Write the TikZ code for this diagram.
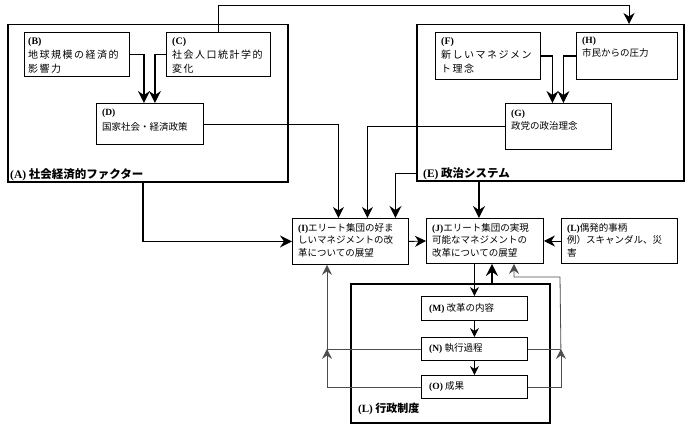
\documentclass[tikz,border=0pt]{standalone}
\usepackage{fontspec}
\setmainfont{Noto Sans CJK JP}
\newfontfamily\latf{Liberation Serif}
\newfontfamily\jpw[LetterSpace=15]{Noto Sans CJK JP}
\usetikzlibrary{arrows.meta,calc}
\newcommand\lb[1]{{\latf\bfseries #1}}
\begin{document}
\begin{tikzpicture}[x=1pt,y=-1pt,
  frame/.style={draw, line width=1.5pt, anchor=north west, inner sep=0pt},
  box/.style={draw, line width=0.9pt, anchor=north west, inner sep=0pt},
  txt/.style={anchor=north west, align=left, inner sep=0pt, font=\fontsize{9.5}{12.5}\selectfont},
  wtxt/.style={anchor=north west, align=left, inner sep=0pt, font=\jpw\fontsize{10}{14}\selectfont},
  ltxt/.style={anchor=west, inner sep=0pt, font=\fontsize{11.5}{13}\selectfont\bfseries},
  con/.style={line width=0.9pt, -{Stealth[length=11pt,width=11pt,inset=3.5pt]}},
  cons/.style={line width=0.9pt, -{Stealth[length=9pt,width=9pt,inset=3pt]}},
  conB/.style={line width=1.3pt, -{Stealth[length=12pt,width=12pt,inset=4pt]}},
  conT/.style={line width=1.8pt, -{Stealth[length=12pt,width=12pt,inset=4pt]}},
  conG/.style={line width=0.8pt, draw=black!70, -{Stealth[length=10pt,width=10pt,inset=3.5pt]}},
  lineG/.style={line width=0.8pt, draw=black!70}]
\useasboundingbox (0,0) rectangle (700,428);

% frames
\node[frame, minimum width=280pt, minimum height=157pt] (A) at (7,24) {};
\node[frame, minimum width=267pt, minimum height=156pt] (E) at (416,24) {};
\node[frame, minimum width=199pt, minimum height=139pt] (Adm) at (350,283) {};

% boxes
\node[box, minimum width=105pt, minimum height=44pt] (B) at (24,32) {};
\node[box, minimum width=104pt, minimum height=44pt] (C) at (166,32) {};
\node[box, minimum width=107pt, minimum height=41pt] (D) at (96,103) {};
\node[box, minimum width=105pt, minimum height=47pt] (F) at (435,32) {};
\node[box, minimum width=101pt, minimum height=47pt] (H) at (576,32) {};
\node[box, minimum width=106pt, minimum height=46pt] (G) at (505,103) {};
\node[box, minimum width=116pt, minimum height=46pt] (I) at (292,218) {};
\node[box, minimum width=117pt, minimum height=45pt] (J) at (426,218) {};
\node[box, minimum width=116pt, minimum height=45pt] (Lc) at (561,218) {};
\node[box, minimum width=106pt, minimum height=24pt] (M) at (421,296) {};
\node[box, minimum width=106pt, minimum height=23pt] (N) at (421,337) {};
\node[box, minimum width=106pt, minimum height=23pt] (O) at (421,375) {};

% texts
\node[wtxt] (Bt) at ($(B.north west)+(4,5)$) {\lb{(B)}\\地球規模の経済的\\影響力};
\node[wtxt] (Ct) at ($(C.north west)+(6,5)$) {\lb{(C)}\\社会人口統計学的\\変化};
\node[txt, font=\fontsize{9.5}{14.5}\selectfont] (Dt) at ($(D.north west)+(6,6)$) {\lb{(D)}\\国家社会・経済政策};
\node[wtxt] (Ft) at ($(F.north west)+(6,5)$) {\lb{(F)}\\新しいマネジメン\\ト理念};
\node[txt, font=\fontsize{9.5}{13}\selectfont] (Ht) at ($(H.north west)+(6,5)$) {\lb{(H)}\\市民からの圧力};
\node[txt, font=\fontsize{9.5}{13}\selectfont] (Gt) at ($(G.north west)+(6,7)$) {\lb{(G)}\\政党の政治理念};
\node[txt] (It) at ($(I.north west)+(6,5)$) {\lb{(I)}エリート集団の好ま\\しいマネジメントの改\\革についての展望};
\node[txt] (Jt) at ($(J.north west)+(6,5)$) {\lb{(J)}エリート集団の実現\\可能なマネジメントの\\改革についての展望};
\node[txt] (Lt) at ($(Lc.north west)+(6,5)$) {\lb{(L)}偶発的事柄\\例）スキャンダル、災\\害};
\node[txt, anchor=west] (Mt) at ($(M.west)+(8,0)$) {\lb{(M)} 改革の内容};
\node[txt, anchor=west] (Nt) at ($(N.west)+(8,0)$) {\lb{(N)} 執行過程};
\node[txt, anchor=west] (Ot) at ($(O.west)+(8,0)$) {\lb{(O)} 成果};

% frame labels
\node[ltxt] (At) at ($(A.south west)+(3,-8)$) {{\latf\bfseries (A)} 社会経済的ファクター};
\node[ltxt] (Et) at ($(E.south west)+(7,-8)$) {{\latf\bfseries (E)} 政治システム};
\node[ltxt, font=\fontsize{11}{13}\selectfont\bfseries] (Admt) at ($(Adm.south west)+(8,-15)$) {{\latf\bfseries (L)} 行政制度};

% coordinates
\coordinate (t1) at (629,5);
\coordinate (ax) at ($(A.south)+(-5,0)$);
\coordinate (jx) at ($(J.north)+(-6,0)$);
\coordinate (a2) at ($(J.south)+(7,0)$);
\coordinate (jr) at ($(J.south)+(29,0)$);
\coordinate (rj) at ($(N.east)+(33,0)$);
\coordinate (lj) at ($(N.west)+(-94,0)$);
\coordinate (rtop) at (560,277);
\coordinate (el) at ($(E.south west)+(0,-8)$);

% connectors
\draw[con] (C.north) |- (t1) -- (t1 |- E.north);
\draw[conB] (B.east) -| ($(D.north)+(-6,0)$);
\draw[conB] (C.west) -| ($(D.north)+(5,0)$);
\draw[conB] (F.east) -| ($(G.north)+(-6,0)$);
\draw[conB] (H.west) -| ($(G.north)+(5,0)$);
\draw[con] (D.east) -| ($(I.north)+(-12,0)$);
\draw[con] (G.west) -| ($(I.north)+(17,0)$);
\draw[conT] (el) -| ($(I.north)+(45,0)$);
\draw[conT] (jx |- E.south) -- (jx);
\draw[conT] (ax) |- (I.west);
\draw[con] (I.east) -- (J.west);
\draw[con] (Lc.west) -- (J.east);
\draw[cons] (J.south -| M.north) -- (M.north);
\draw[cons] (M.south) -- (N.north);
\draw[cons] (N.south) -- (O.north);
\draw[conT] (a2 |- Adm.north) -- (a2);
\draw[conG] (O.east) -| (rj);
\draw[conG] (rj) -- (rtop) -| (jr);
\draw[lineG] (N.east) -- (rj);
\draw[conG] (O.west) -| (lj);
\draw[conG] (lj) -- (lj |- I.south);
\draw[lineG] (N.west) -- (lj);
\end{tikzpicture}
\end{document}
